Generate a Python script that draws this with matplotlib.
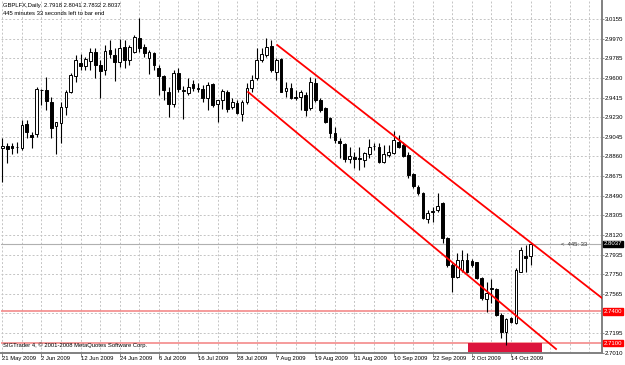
import matplotlib
matplotlib.use("Agg")
import matplotlib.pyplot as plt
from matplotlib.patches import Rectangle

# ---------------- data ----------------
title_text = "GBPLFX,Daily  2.7918 2.8041 2.7832 2.8037"
timer_text = "445 minutes 33 seconds left to bar end"
copyright_text = "SIGTrader 4, \u00a9 2001-2008 MetaQuotes Software Corp."
timer_tag = "<  445: 33"

opens = [2.8939, 2.8961, 2.8958, 2.8949, 2.8936, 2.9165, 2.9062, 2.9068, 2.9490, 2.9486,
         2.9370, 2.9149, 2.9172, 2.9323, 2.9470, 2.9618, 2.9737, 2.9715, 2.9762, 2.9841,
         2.9721, 2.9674, 2.9860, 2.9816, 2.9752, 2.9894, 2.9769, 2.9847, 2.9973, 2.9894,
         2.9790, 2.9837, 2.9690, 2.9618, 2.9470, 2.9351, 2.9643, 2.9476, 2.9455, 2.9539,
         2.9507, 2.9495, 2.9408, 2.9539, 2.9351, 2.9392, 2.9470, 2.9328, 2.9360, 2.9257,
         2.9370, 2.9502, 2.9596, 2.9769, 2.9816, 2.9903, 2.9658, 2.9775, 2.9476, 2.9502,
         2.9423, 2.9423, 2.9439, 2.9313, 2.9555, 2.9392, 2.9313, 2.9219, 2.9083, 2.9008,
         2.8977, 2.8833, 2.8851, 2.8842, 2.8826, 2.8883, 2.8958, 2.8951, 2.8810, 2.8873,
         2.8895, 2.8998, 2.8967, 2.8873, 2.8691, 2.8574, 2.8512, 2.8270, 2.8333, 2.8355,
         2.8418, 2.8088, 2.7837, 2.7726, 2.7790, 2.7884, 2.7874, 2.7862, 2.7711, 2.7516,
         2.7615, 2.7610, 2.7365, 2.7208, 2.7334, 2.7287, 2.7773, 2.7924, 2.7918]
highs = [2.9033, 2.8986, 2.8989, 2.8996, 2.9203, 2.9203, 2.9093, 2.9517, 2.9495, 2.9611,
         2.9423, 2.9184, 2.9376, 2.9486, 2.9643, 2.9816, 2.9825, 2.9800, 2.9879, 2.9879,
         2.9769, 2.9910, 2.9957, 2.9879, 2.9966, 2.9957, 2.9910, 3.0004, 3.0164, 2.9917,
         2.9863, 2.9840, 2.9721, 2.9627, 2.9517, 2.9674, 2.9690, 2.9526, 2.9602, 2.9580,
         2.9549, 2.9533, 2.9564, 2.9549, 2.9395, 2.9495, 2.9486, 2.9408, 2.9392, 2.9392,
         2.9549, 2.9627, 2.9879, 2.9879, 2.9973, 2.9957, 2.9785, 2.9785, 2.9564, 2.9555,
         2.9486, 2.9486, 2.9470, 2.9605, 2.9596, 2.9408, 2.9328, 2.9228, 2.9140, 2.9031,
         2.8983, 2.8946, 2.8904, 2.8951, 2.8904, 2.9021, 2.8983, 2.8983, 2.8967, 2.8967,
         2.9102, 2.9062, 2.8998, 2.8904, 2.8701, 2.8590, 2.8527, 2.8355, 2.8386, 2.8512,
         2.8433, 2.8103, 2.7852, 2.7947, 2.7978, 2.7947, 2.7893, 2.7868, 2.7726, 2.7679,
         2.7704, 2.7617, 2.7381, 2.7340, 2.7349, 2.7805, 2.8009, 2.8025, 2.8041]
lows = [2.8619, 2.8798, 2.8880, 2.8892, 2.8920, 2.9033, 2.8936, 2.9046, 2.9344, 2.9297,
        2.9036, 2.8880, 2.8983, 2.9250, 2.9455, 2.9564, 2.9674, 2.9674, 2.9674, 2.9596,
        2.9413, 2.9627, 2.9785, 2.9573, 2.9705, 2.9690, 2.9721, 2.9832, 2.9847, 2.9800,
        2.9634, 2.9674, 2.9439, 2.9392, 2.9234, 2.9328, 2.9470, 2.9212, 2.9439, 2.9476,
        2.9470, 2.9370, 2.9297, 2.9328, 2.9187, 2.9307, 2.9281, 2.9307, 2.9257, 2.9194,
        2.9351, 2.9470, 2.9580, 2.9752, 2.9800, 2.9658, 2.9580, 2.9468, 2.9423, 2.9398,
        2.9392, 2.9297, 2.9241, 2.9297, 2.9376, 2.9281, 2.9178, 2.9031, 2.8983, 2.8842,
        2.8810, 2.8795, 2.8748, 2.8732, 2.8757, 2.8842, 2.8920, 2.8801, 2.8795, 2.8857,
        2.8883, 2.8936, 2.8854, 2.8654, 2.8560, 2.8496, 2.8270, 2.8229, 2.8244, 2.8333,
        2.8041, 2.7820, 2.7585, 2.7711, 2.7774, 2.7758, 2.7820, 2.7704, 2.7507, 2.7396,
        2.7475, 2.7358, 2.7145, 2.7083, 2.7287, 2.7277, 2.7768, 2.7773, 2.7832]
closes = [2.8958, 2.8930, 2.8942, 2.8947, 2.9156, 2.9093, 2.9043, 2.9495, 2.9484, 2.9385,
          2.9125, 2.9181, 2.9323, 2.9464, 2.9627, 2.9769, 2.9715, 2.9778, 2.9841, 2.9721,
          2.9668, 2.9853, 2.9825, 2.9752, 2.9884, 2.9769, 2.9894, 2.9988, 2.9879, 2.9832,
          2.9841, 2.9721, 2.9621, 2.9486, 2.9351, 2.9643, 2.9495, 2.9486, 2.9517, 2.9502,
          2.9495, 2.9408, 2.9533, 2.9344, 2.9392, 2.9476, 2.9307, 2.9370, 2.9266, 2.9370,
          2.9502, 2.9580, 2.9769, 2.9822, 2.9894, 2.9674, 2.9769, 2.9470, 2.9502, 2.9408,
          2.9408, 2.9470, 2.9297, 2.9564, 2.9392, 2.9297, 2.9187, 2.9078, 2.9015, 2.8983,
          2.8833, 2.8864, 2.8838, 2.8838, 2.8889, 2.8951, 2.8960, 2.8810, 2.8883, 2.8904,
          2.9015, 2.8951, 2.8864, 2.8685, 2.8584, 2.8512, 2.8277, 2.8324, 2.8345, 2.8395,
          2.8088, 2.7837, 2.7726, 2.7884, 2.7884, 2.7774, 2.7837, 2.7711, 2.7523, 2.7570,
          2.7611, 2.7365, 2.7208, 2.7327, 2.7302, 2.7790, 2.7978, 2.7905, 2.8037]

date_labels = ["21 May 2009", "2 Jun 2009", "12 Jun 2009", "24 Jun 2009", "6 Jul 2009",
               "16 Jul 2009", "28 Jul 2009", "7 Aug 2009", "19 Aug 2009", "31 Aug 2009",
               "10 Sep 2009", "22 Sep 2009", "2 Oct 2009", "14 Oct 2009"]
date_bars = [0, 8, 16, 24, 32, 40, 48, 56, 64, 72, 80, 88, 96, 104]
grid_bars = list(range(0, 124, 4))

price_ticks = [3.0155, 2.9970, 2.9785, 2.9600, 2.9415, 2.9230, 2.9045, 2.8860, 2.8675,
               2.8490, 2.8305, 2.8120, 2.7935, 2.7750, 2.7565, 2.7380, 2.7195, 2.7010]
hidden_tick = 2.7380

level_lines = [2.7400, 2.7100]
upper_x = [56.2, 122.6]
upper_y = [2.9910, 2.7525]
lower_x = [50.25, 113.2]
lower_y = [2.9467, 2.7045]
zone_x = [95.2, 110.4]
zone_top = 2.7100
last_price = 2.8037

# ---------------- figure ----------------
W, H = 625, 365
fig = plt.figure(figsize=(W / 100, H / 100), dpi=100)
fig.patch.set_facecolor("white")
ax = fig.add_axes([1 / W, 1 - 353 / H, 601 / W, 352 / H])
ax.set_facecolor("white")
ax.set_xlim(-0.27, 122.6)
ax.set_ylim(2.7007, 3.0325)

FONT = "Liberation Sans"
FS = 4.2
FSY = 4.3

# grid
for g in grid_bars:
    ax.axvline(g, color="#c4c4c4", lw=0.7, ls=(0, (2, 2)), zorder=0)
for p in price_ticks:
    ax.axhline(p, color="#c4c4c4", lw=0.7, ls=(0, (2, 2)), zorder=0)

# level lines
for lv in level_lines:
    ax.axhline(lv, color="#f28080", lw=1.1, zorder=1)
ax.axhline(last_price, color="#b0b0b0", lw=0.8, zorder=1)

# zone
ax.add_patch(Rectangle((zone_x[0], 2.69), zone_x[1] - zone_x[0], zone_top - 2.69,
                       facecolor="#dc143c", edgecolor="none", zorder=2))

# candles
bw = 0.56
for i, (o, h, l, c) in enumerate(zip(opens, highs, lows, closes)):
    ax.plot([i, i], [l, h], color="black", lw=0.8, zorder=3, solid_capstyle="butt")
    bull = c >= o
    bottom = min(o, c)
    height = max(abs(c - o), 0.00015)
    ax.add_patch(Rectangle((i - bw / 2, bottom), bw, height,
                           facecolor="white" if bull else "black",
                           edgecolor="black", lw=0.7, zorder=4))

# channel lines
ax.plot(upper_x, upper_y, color="#ff0000", lw=1.3, zorder=5)
ax.plot(lower_x, lower_y, color="#ff0000", lw=1.3, zorder=5)

# spines / ticks
for s in ["left", "top"]:
    ax.spines[s].set_visible(False)
for s in ["right", "bottom"]:
    ax.spines[s].set_color("#808080")
    ax.spines[s].set_linewidth(1.4)
ax.yaxis.tick_right()
ax.set_yticks(price_ticks)
ax.set_yticklabels(["" if abs(p - hidden_tick) < 1e-6 else f"{p:.4f}" for p in price_ticks],
                   fontsize=FSY, family=FONT, color="black")
ax.tick_params(axis="y", direction="out", length=1.6, width=0.6, color="#808080", pad=0.4)
ax.set_xticks(date_bars)
ax.set_xticklabels([])
ax.tick_params(axis="x", direction="out", length=3, width=0.6, color="#808080")
for b, lab in zip(date_bars, date_labels):
    ax.annotate(lab, xy=(b, 0), xycoords=("data", "axes fraction"),
                xytext=(0.0, -2.4), textcoords="offset points",
                ha="left", va="top", fontsize=FS, family=FONT, color="black")

# price boxes on axis
def box(price, text, fc):
    ax.annotate(text, xy=(1, price), xycoords=("axes fraction", "data"),
                xytext=(1.3, 0), textcoords="offset points", ha="left", va="center",
                fontsize=FSY, family=FONT, color="white",
                bbox=dict(boxstyle="square,pad=0.12", fc=fc, ec=fc), annotation_clip=False)

for lv in level_lines:
    box(lv, f"{lv:.4f}", "#ff0000")
box(last_price, f"{last_price:.4f}", "black")

# texts
fig.text(3 / W, 1 - 6 / H, title_text, fontsize=FS, family=FONT, ha="left", va="center")
fig.text(3 / W, 1 - 13.5 / H, timer_text, fontsize=FS, family=FONT, ha="left", va="center")
fig.text(3 / W, 1 - 345.5 / H, copyright_text, fontsize=FS, family=FONT, ha="left", va="center")
ax.text(114.3, last_price - 0.0004, timer_tag, fontsize=FS, family=FONT,
        ha="left", va="center", color="#333333", zorder=6)

fig.savefig("out.png", dpi=100, facecolor="white")
